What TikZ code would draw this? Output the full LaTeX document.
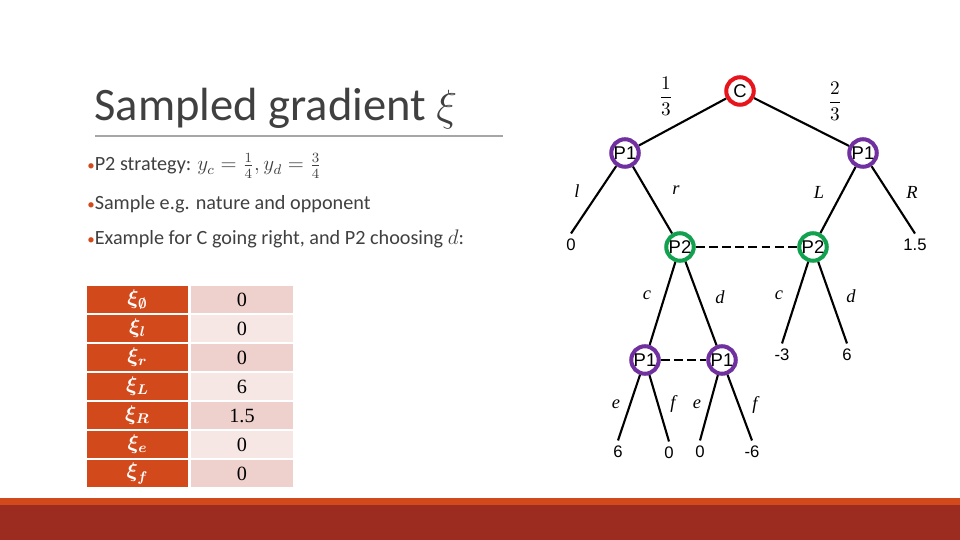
\documentclass[tikz,border=0pt]{standalone}
\usepackage{amsmath, amssymb, bm}
\usepackage{fontspec}
\setmainfont{Carlito}
\newfontfamily\arialf{Liberation Sans}
\newfontfamily\timesf{Liberation Serif}
\usepackage{tikz}
\usepackage{xcolor}

\definecolor{corange}{HTML}{D24A1B}
\definecolor{cdark}{HTML}{9C2C1F}
\definecolor{cpinkA}{HTML}{EED1CD}
\definecolor{cpinkB}{HTML}{F6E7E5}
\definecolor{cred}{HTML}{E8141B}
\definecolor{cpurple}{HTML}{7030A0}
\definecolor{cgreen}{HTML}{12A14F}
\definecolor{ctitle}{HTML}{404040}
\definecolor{crule}{HTML}{A6A6A6}

\tikzset{
  player/.style={circle, line width=2.3pt, minimum size=0.55cm, inner sep=0pt,
    fill=white, font=\arialf\fontsize{10.5}{12}\selectfont},
  chance/.style={player, draw=cred},
  pone/.style={player, draw=cpurple},
  ptwo/.style={player, draw=cgreen},
  leaf/.style={inner sep=3pt, font=\arialf\fontsize{9.5}{11}\selectfont},
  move/.style={inner sep=1pt, font=\timesf\itshape\fontsize{10.5}{12}\selectfont},
  edge/.style={line width=1.2pt},
  infoset/.style={line width=1.7pt, dash pattern=on 5pt off 2.5pt},
  keycell/.style={rectangle, fill=corange, minimum width=2.02cm, minimum height=0.54cm,
    inner sep=0pt, text=white, font=\fontsize{11.5}{13}\selectfont},
  valcell/.style={rectangle, minimum width=2.04cm, minimum height=0.54cm,
    inner sep=0pt, font=\timesf\fontsize{11.5}{13}\selectfont},
  bullet/.style={anchor=base west, inner sep=0pt, text=ctitle, font=\fontsize{11.5}{14}\selectfont}
}

\newcommand{\bul}{{\color{corange}\fontsize{8.5}{10}\selectfont\textbullet}}
\newcommand{\bxi}[1]{$\bm{\xi_{#1}}$}

\begin{document}
\begin{tikzpicture}[x=0.02cm, y=-0.02cm]
\useasboundingbox (0,0) rectangle (960,540);

% bottom bar
\fill[corange] (0,498) rectangle (960,505);
\fill[cdark] (0,505) rectangle (960,540);

% title
\node[anchor=base west, inner sep=0pt, text=ctitle, font=\fontsize{26.5}{30}\selectfont] (title) at (94,121) {Sampled gradient $\xi$};
\draw[crule, line width=0.6pt] (95,136) -- (503,136);

% bullets
\node[bullet] (b1) at (87,171) {\bul P2 strategy: $y_c=\frac{1}{4},y_d=\frac{3}{4}$};
\node[bullet] (b2) at (87,210) {\bul Sample e.g. nature and opponent};
\node[bullet] (b3) at (87,245) {\bul Example for C going right, and P2 choosing $d$:};

% table
\node[keycell] (k1) at (137.5,299.5) {\bxi{\emptyset}};
\node[keycell] (k2) at (137.5,328.5) {\bxi{l}};
\node[keycell] (k3) at (137.5,357.5) {\bxi{r}};
\node[keycell] (k4) at (137.5,386.5) {\bxi{L}};
\node[keycell] (k5) at (137.5,415.5) {\bxi{R}};
\node[keycell] (k6) at (137.5,444.5) {\bxi{e}};
\node[keycell] (k7) at (137.5,473.5) {\bxi{f}};
\node[valcell, fill=cpinkA] (v1) at (242,299.5) {0};
\node[valcell, fill=cpinkB] (v2) at (242,328.5) {0};
\node[valcell, fill=cpinkA] (v3) at (242,357.5) {0};
\node[valcell, fill=cpinkB] (v4) at (242,386.5) {6};
\node[valcell, fill=cpinkA] (v5) at (242,415.5) {1.5};
\node[valcell, fill=cpinkB] (v6) at (242,444.5) {0};
\node[valcell, fill=cpinkA] (v7) at (242,473.5) {0};

% game tree
\node[chance] (c) at (740,91) {C};
\node[pone] (pl) at (625,153) {P1};
\node[pone] (pr) at (863,153) {P1};
\node[ptwo] (ql) at (680,247) {P2};
\node[ptwo] (qr) at (813,247) {P2};
\node[pone] (sa) at (645,360) {P1};
\node[pone] (sb) at (722,360) {P1};

\node[leaf] (z1) at (571,245) {0};
\node[leaf] (z2) at (915,245) {1.5};
\node[leaf] (z3) at (782,355) {-3};
\node[leaf] (z4) at (847,355) {6};
\node[leaf] (z5) at (618,452) {6};
\node[leaf] (z6) at (669,453) {0};
\node[leaf] (z7) at (700,452) {0};
\node[leaf] (z8) at (752,452) {-6};

\draw[edge] (c) -- (pl);
\draw[edge] (c) -- (pr);
\draw[edge] (pl) -- (z1.north);
\draw[edge] (pl) -- (ql);
\draw[edge] (pr) -- (qr);
\draw[edge] (pr) -- (z2.north);
\draw[edge] (ql) -- (sa);
\draw[edge] (ql) -- (sb);
\draw[edge] (qr) -- (z3.north);
\draw[edge] (qr) -- (z4.north);
\draw[edge] (sa) -- (z5.north);
\draw[edge] (sa) -- (z6.north);
\draw[edge] (sb) -- (z7.north);
\draw[edge] (sb) -- (z8.north);

\draw[infoset] (ql) -- (qr);
\draw[infoset] (sa) -- (sb);

% labels
\node[font=\fontsize{11}{13}\selectfont] (pc1) at (666,96) {$\displaystyle\frac{1}{3}$};
\node[font=\fontsize{11}{13}\selectfont] (pc2) at (835,101) {$\displaystyle\frac{2}{3}$};
\node[move] (ml) at (577,191) {l};
\node[move] (mr) at (676,190) {r};
\node[move] (mL) at (819,192) {L};
\node[move] (mR) at (912,192) {R};
\node[move] (mc1) at (647,295) {c};
\node[move] (md1) at (720,297) {d};
\node[move] (mc2) at (779,295) {c};
\node[move] (md2) at (851,296) {d};
\node[move] (me1) at (616,404) {e};
\node[move] (mf1) at (673,404) {f};
\node[move] (me2) at (697,404) {e};
\node[move] (mf2) at (755,405) {f};
\end{tikzpicture}
\end{document}
